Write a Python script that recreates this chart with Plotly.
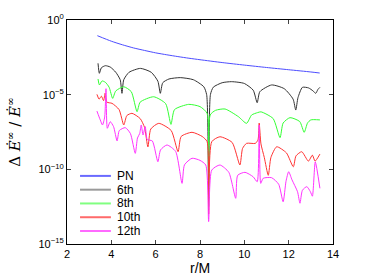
import plotly.graph_objects as go

# ---- data (values are log10 of the relative error) ----
r_pn = [3.37, 4.0, 4.5, 5.0, 5.5, 6.0, 6.5, 7.0, 7.5, 8.0, 9.0, 10.0, 11.0, 12.0, 13.0, 13.4]
log_pn = [-1.05, -1.42, -1.66, -1.87, -2.04, -2.2, -2.33, -2.45, -2.56, -2.66, -2.85, -3.02, -3.18, -3.33, -3.48, -3.55]

r_6th = [3.40, 3.46, 3.55, 3.73, 3.95, 4.2, 4.4, 4.48, 4.56, 4.8, 5.31, 5.8, 6.1, 6.21, 6.32, 6.6,
         7.11, 7.7, 8.17, 8.3, 8.39, 8.47, 8.6, 9.0, 9.43, 10.0, 10.4, 10.58, 10.7, 11.23, 11.8,
         12.2, 12.32, 12.42, 12.62, 12.9, 13.1, 13.22, 13.32, 13.41]
log_6th = [-2.90, -3.57, -3.2, -3.06, -3.15, -3.5, -4.0, -4.91, -4.0, -3.5, -3.24, -3.5, -4.1, -4.91,
           -4.2, -3.95, -3.86, -4.0, -4.47, -5.0, -12.0, -5.0, -4.5, -4.2, -4.13, -4.25, -4.7, -5.54,
           -4.8, -4.35, -4.6, -5.3, -6.03, -5.2, -4.51, -4.55, -4.75, -4.91, -4.65, -4.51]

r_8th = [3.40, 3.46, 3.58, 3.73, 3.9, 4.06, 4.2, 4.56, 4.9, 5.16, 5.3, 5.91, 6.45, 6.69, 6.85, 7.49,
         8.0, 8.32, 8.39, 8.46, 8.7, 9.13, 9.73, 10.1, 10.33, 10.6, 10.75, 11.3, 11.61, 11.75, 12.06,
         12.5, 12.7, 12.85, 13.0, 13.41]
log_8th = [-3.95, -4.35, -4.08, -4.17, -4.5, -5.25, -4.75, -4.47, -4.8, -6.14, -5.5, -5.14, -5.6,
           -6.99, -6.0, -5.65, -5.8, -6.25, -12.5, -6.36, -6.05, -5.96, -6.47, -6.92, -6.36, -6.2,
           -6.15, -6.6, -7.88, -6.9, -6.54, -6.8, -7.52, -6.9, -6.69, -6.69]

r_10th = [3.35, 3.45, 3.55, 3.65, 3.72, 3.8, 4.03, 4.35, 4.56, 4.7, 4.93, 5.3, 5.5, 5.65, 5.78,
          6.14, 6.7, 7.01, 7.15, 7.64, 8.1, 8.32, 8.39, 8.53, 8.9, 9.45, 9.80, 9.92, 10.1, 10.5,
          10.62, 10.67, 10.75, 10.9, 11.08, 11.2, 11.46, 11.9, 12.21, 12.33, 12.59, 12.89, 13.07,
          13.19, 13.41]
log_10th = [-4.98, -5.3, -5.1, -5.4, -4.9, -5.5, -5.58, -6.0, -7.03, -6.4, -6.25, -6.6, -7.2, -8.5,
            -7.3, -6.92, -7.4, -8.82, -7.8, -7.52, -7.8, -8.14, -13.0, -8.15, -7.82, -8.2, -9.71,
            -8.6, -8.26, -8.26, -8.0, -6.9, -8.3, -9.2, -10.4, -9.2, -8.49, -8.9, -9.83, -9.1,
            -8.82, -9.45, -9.05, -9.45, -8.98]

r_12th = [3.35, 3.5, 3.6, 3.7, 3.76, 3.82, 3.95, 4.1, 4.26, 4.36, 4.63, 4.86, 5.08, 5.18, 5.28,
          5.35, 5.43, 5.53, 5.62, 5.85, 6.10, 6.22, 6.51, 6.9, 7.19, 7.3, 7.64, 8.0, 8.26, 8.39,
          8.53, 8.9, 9.3, 9.61, 9.7, 10.03, 10.4, 10.58, 10.67, 10.74, 10.85, 11.23, 11.55, 11.75,
          11.88, 12.0, 12.15, 12.4, 12.51, 12.62, 12.82, 12.98, 13.07, 13.2, 13.41]
log_12th = [-6.1, -6.69, -7.03, -6.5, -4.6, -7.25, -6.81, -7.14, -8.10, -7.4, -7.21, -7.6, -8.93,
            -7.9, -7.6, -7.03, -7.7, -7.14, -8.0, -8.1, -9.49, -8.7, -8.37, -8.8, -10.94, -9.7,
            -9.26, -9.4, -9.71, -13.5, -10.05, -9.71, -10.2, -11.94, -10.4, -10.2, -10.5, -10.83,
            -7.03, -10.94, -10.6, -10.56, -11.0, -12.17, -10.8, -10.16, -10.7, -11.5, -12.27,
            -11.4, -11.16, -11.5, -11.8, -9.5, -11.27]

series_names = ["PN", "6th", "8th", "10th", "12th"]
series_colors = ["#4d4dff", "#333333", "#33ff33", "#ff3333", "#ff33ff"]
series_r = [r_pn, r_6th, r_8th, r_10th, r_12th]
series_log = [log_pn, log_6th, log_8th, log_10th, log_12th]

x_ticks = [2, 4, 6, 8, 10, 12, 14]
y_tickvals = [1, 1e-5, 1e-10, 1e-15]
y_ticktext = ["10<sup>0</sup>", "10<sup>−5</sup>", "10<sup>−10</sup>", "10<sup>−15</sup>"]

fig = go.Figure()
for name, col, rr, ll in zip(series_names, series_colors, series_r, series_log):
    fig.add_trace(go.Scatter(
        x=rr, y=[10 ** v for v in ll], mode="lines", name=name,
        line=dict(color=col, width=1, shape="spline", smoothing=0.6),
    ))

# compact legend (the native one cannot be packed this tightly)
legend_x0, legend_x1, legend_tx = 0.049, 0.165, 0.18
legend_top, legend_step = 0.304, 0.0615
legend_colors = ["#6a6aff", "#9a9a9a", "#80ff80", "#ff6a6a", "#ff6aff"]
shapes = []
annotations = []
for i, (name, col) in enumerate(zip(series_names, legend_colors)):
    yy = legend_top - i * legend_step
    shapes.append(dict(type="line", xref="paper", yref="paper", x0=legend_x0, x1=legend_x1,
                       y0=yy, y1=yy, line=dict(color=col, width=2)))
    annotations.append(dict(text=name, xref="paper", yref="paper", x=legend_tx, y=yy,
                            xanchor="left", yanchor="middle", showarrow=False,
                            font=dict(size=12)))

annotations += [
    dict(text="r/M", xref="paper", yref="paper", x=0.5, y=-0.105, xanchor="center",
         yanchor="middle", showarrow=False, font=dict(size=14)),
    dict(text="Δ <i>Ė</i><sup>∞</sup> / <i>Ė</i><sup>∞</sup>", xref="paper", yref="paper",
         x=-0.2, y=0.5, xanchor="center", yanchor="middle", textangle=-90,
         showarrow=False, font=dict(size=15, family="DejaVu Serif, serif")),
]

font = "Liberation Sans, Arial, sans-serif"
fig.update_layout(
    width=368, height=277,
    margin=dict(l=67, r=35, t=20, b=33),
    paper_bgcolor="white", plot_bgcolor="white",
    font=dict(family=font, size=11, color="black"),
    showlegend=False,
    shapes=shapes,
    annotations=annotations,
    xaxis=dict(range=[2, 14], tickvals=x_ticks, ticks="inside", ticklen=4,
               showline=True, linecolor="black", linewidth=1, mirror="ticks",
               showgrid=False, zeroline=False, tickfont=dict(size=11)),
    yaxis=dict(type="log", range=[-15, 0], tickvals=y_tickvals, ticktext=y_ticktext,
               ticks="inside", ticklen=4, showline=True, linecolor="black", linewidth=1,
               mirror="ticks", showgrid=False, zeroline=False, tickfont=dict(size=11)),
)
fig.write_html("out.html", config={"displayModeBar": False},
               post_script="document.body.style.margin='0';document.body.style.padding='0';")
